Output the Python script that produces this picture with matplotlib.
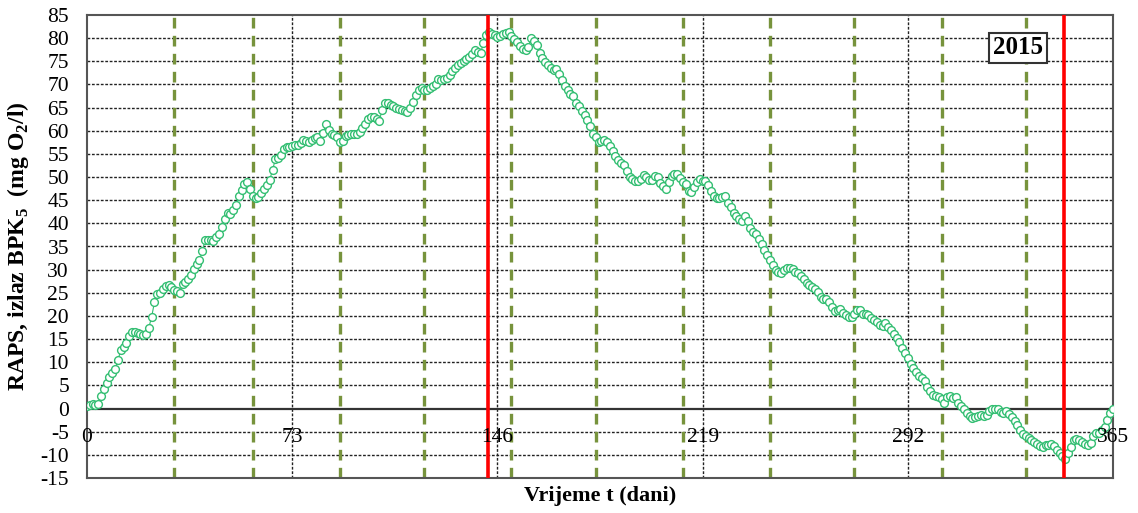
import matplotlib
matplotlib.use("Agg")
import matplotlib.pyplot as plt

# ---------------- data ----------------
days = list(range(0, 366))
raps = [
    0.5, 0.8, 0.9, 0.8, 1.0, 2.8, 4.2, 5.6, 6.8, 7.6,
    8.6, 10.4, 12.6, 13.2, 14.2, 15.6, 16.6, 16.6, 16.4, 16.2,
    15.8, 16.0, 17.5, 19.8, 23.0, 24.7, 25.0, 25.8, 26.5, 26.6,
    26.3, 25.7, 25.4, 25.0, 26.8, 27.4, 28.0, 28.8, 30.2, 31.2,
    32.0, 34.0, 36.3, 36.5, 36.4, 36.2, 37.0, 37.8, 39.2, 41.0,
    42.2, 42.1, 42.8, 44.0, 45.8, 47.2, 48.4, 49.0, 47.5, 46.0,
    45.5, 45.6, 46.5, 47.5, 48.3, 49.4, 51.5, 53.8, 54.2, 54.8,
    56.0, 56.5, 56.4, 56.6, 56.9, 57.0, 57.3, 57.9, 57.7, 57.6,
    58.1, 58.5, 58.6, 57.8, 59.5, 61.4, 60.1, 59.4, 59.0, 58.6,
    57.6, 57.8, 58.8, 59.0, 59.3, 59.4, 59.4, 59.8, 60.6, 61.5,
    62.5, 62.9, 62.9, 62.6, 62.2, 64.5, 66.0, 66.1, 65.6, 65.3,
    65.0, 64.7, 64.5, 64.3, 64.1, 65.0, 66.3, 67.7, 68.9, 69.3,
    68.8, 68.9, 69.2, 69.6, 70.2, 71.1, 71.0, 71.1, 71.3, 72.0,
    72.9, 73.6, 74.3, 74.7, 75.0, 75.4, 75.9, 76.6, 77.4, 77.1,
    76.7, 78.9, 80.7, 81.4, 81.0, 80.6, 80.3, 80.5, 81.0, 81.2,
    81.4, 80.5, 79.8, 79.1, 78.2, 77.7, 77.4, 78.0, 80.1, 79.4,
    78.5, 76.9, 75.8, 74.9, 74.1, 73.5, 73.1, 73.4, 72.2, 70.9,
    69.6, 68.7, 68.0, 67.4, 66.1, 65.4, 64.3, 63.3, 62.3, 61.1,
    59.3, 58.6, 57.6, 57.8, 58.0, 57.5, 56.8, 55.6, 54.5, 53.7,
    53.1, 52.5, 51.3, 50.0, 49.5, 49.2, 49.2, 49.5, 50.5, 50.1,
    49.3, 49.4, 50.2, 50.1, 48.8, 48.0, 47.4, 49.0, 50.2, 50.6,
    50.6, 49.7, 49.0, 48.5, 47.0, 46.7, 47.8, 49.0, 49.5, 49.2,
    49.2, 48.2, 47.0, 45.9, 45.4, 45.4, 45.6, 45.9, 44.5, 43.5,
    42.3, 41.5, 40.9, 40.4, 41.5, 40.5, 39.1, 38.2, 37.7, 36.7,
    35.5, 34.3, 33.2, 32.0, 30.9, 30.0, 29.5, 29.2, 29.9, 30.3,
    30.4, 30.1, 29.6, 29.2, 28.7, 27.9, 27.2, 26.7, 26.3, 25.8,
    25.1, 24.1, 23.6, 23.7, 23.0, 22.0, 21.0, 21.3, 21.4, 20.6,
    20.1, 19.8, 19.8, 20.5, 21.2, 21.2, 20.4, 20.5, 20.2, 19.6,
    19.1, 18.6, 18.0, 17.8, 18.4, 17.7, 16.9, 16.0, 15.2, 14.3,
    13.1, 12.1, 10.9, 9.7, 8.8, 7.9, 7.0, 6.5, 5.9, 4.6,
    3.7, 3.0, 2.7, 2.5, 2.0, 1.3, 2.6, 2.7, 2.3, 2.5,
    1.2, 0.6, -0.1, -0.9, -1.7, -2.1, -1.8, -1.6, -1.3, -1.7,
    -1.3, -0.6, 0.0, -0.1, -0.2, -0.8, -1.0, -0.6, -1.1, -1.9,
    -2.6, -3.6, -4.6, -5.4, -6.0, -6.4, -6.8, -7.2, -7.7, -8.1,
    -8.2, -7.9, -7.8, -7.7, -8.1, -8.9, -9.7, -10.3, -10.8, -9.6,
    -8.2, -6.9, -6.5, -6.8, -7.2, -7.6, -7.8, -7.4, -6.0, -5.2,
    -5.2, -4.6, -3.9, -2.4, -1.0, 0.0,
]
month_ends = [31, 59, 90, 120, 151, 181, 212, 243, 273, 304, 334]
extreme_days = [142.7, 347.6]
x_ticks = [0, 73, 146, 219, 292, 365]
x_tick_labels = ["0", "73", "146", "219", "292", "365"]
y_ticks = list(range(-15, 90, 5))
year_label = "2015"

# ---------------- figure ----------------
plt.rcParams["font.family"] = ["Liberation Serif", "DejaVu Serif"]
plt.rcParams["mathtext.fontset"] = "custom"
plt.rcParams["mathtext.rm"] = "Liberation Serif"
plt.rcParams["mathtext.bf"] = "Liberation Serif:bold"

fig = plt.figure(figsize=(11.38, 5.13), dpi=100)
ax = fig.add_axes([87 / 1138, 1 - 478 / 513, (1113 - 87) / 1138, (478 - 15) / 513])
ax.set_xlim(0, 365)
ax.set_ylim(-15, 85)

grid_kw = dict(color="#222222", lw=1.0, linestyle=(0, (2, 1.2)), zorder=1)
for yv in y_ticks:
    if yv in (-15, 85):
        continue
    if yv == 0:
        ax.axhline(0, color="#333333", lw=1.6, zorder=1.5)
    else:
        ax.axhline(yv, **grid_kw)
for xv in x_ticks[1:-1]:
    ax.axvline(xv, **grid_kw)

for d in month_ends:
    ax.axvline(d, color="#77933C", lw=2.4, linestyle=(0, (3.2, 2.2)), zorder=2)

ax.plot(days, raps, color="#33BE72", lw=0.8, marker="o", markersize=5.6,
        markerfacecolor="white", markeredgecolor="#33BE72", markeredgewidth=1.0,
        zorder=3)

for d in extreme_days:
    ax.axvline(d, color="#FF0000", lw=2.6, zorder=4)

ax.set_yticks(y_ticks)
ax.set_yticklabels([str(v) for v in y_ticks], fontsize=15.5)
ax.tick_params(axis="y", length=0, pad=13)
ax.set_xticks([])
for t, lab in zip(x_ticks, x_tick_labels):
    ax.text(t, -6.2, lab, ha="center", va="center", fontsize=15.5, zorder=5)

for sp in ax.spines.values():
    sp.set_color("#555555")
    sp.set_linewidth(1.5)

ax.set_xlabel("Vrijeme t (dani)", fontsize=16, fontweight="bold", labelpad=6)
ax.set_ylabel(r"RAPS, izlaz BPK$_\mathbf{5}$  (mg O$_\mathbf{2}$/l)", fontsize=17,
              fontweight="bold", labelpad=7)

fig.text(1018 / 1138, 1 - 48 / 513, year_label, fontsize=18, fontweight="bold",
         ha="center", va="center", zorder=6,
         bbox=dict(boxstyle="square,pad=0.15", facecolor="white",
                   edgecolor="#333333", lw=1.5))

fig.savefig("out.png", dpi=100)
